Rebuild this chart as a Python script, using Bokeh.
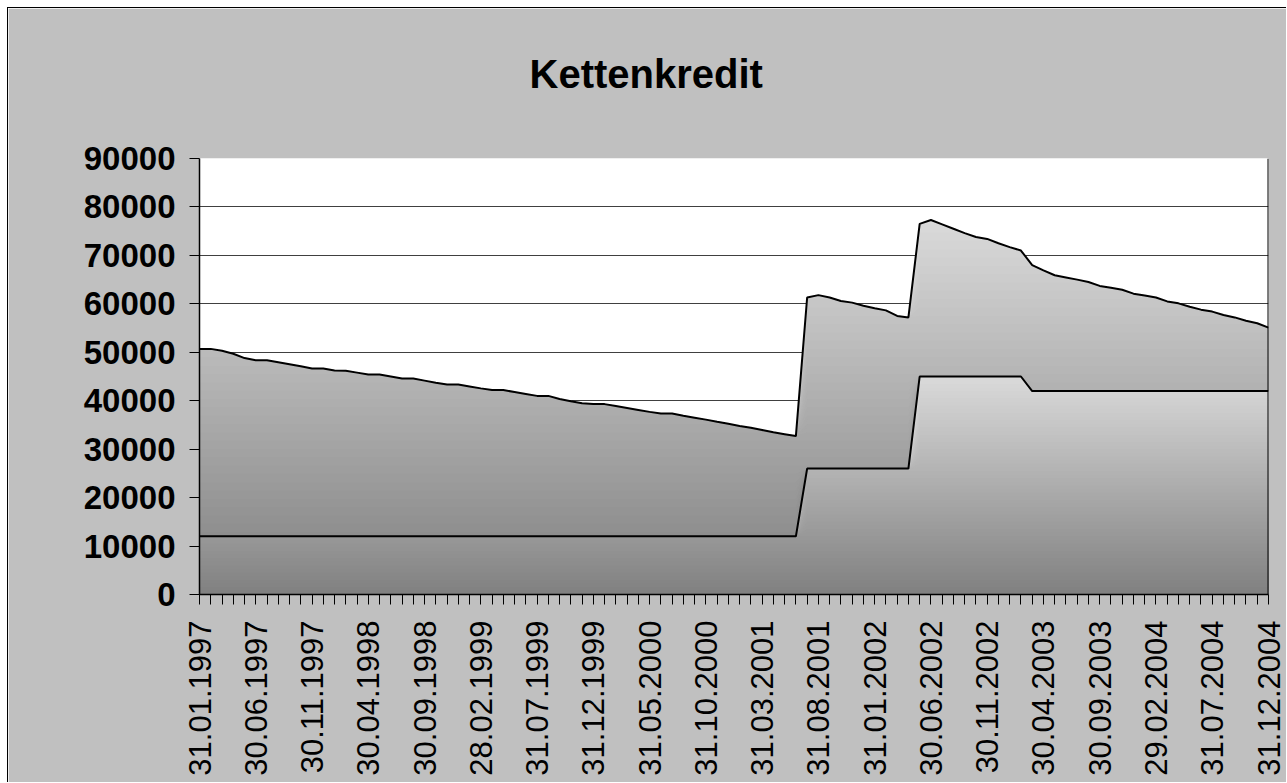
import numpy as np
import pandas as pd
from bokeh.plotting import figure
from bokeh.models import Range1d, FixedTicker, NumeralTickFormatter, Span
from bokeh.embed import file_html
from bokeh.resources import INLINE

# ---------------- data ----------------
title_text = "Kettenkredit"
dates = [d.strftime("%d.%m.%Y") for d in
         pd.date_range("1997-01-31", periods=96, freq=pd.offsets.MonthEnd())]

# lower series (first loan / base)
lower = ([12000] * 54) + ([26000] * 10) + ([45000] * 10) + ([42000] * 22)

# upper line (total)
upper = [
    50700, 50700, 50300, 49700, 48800, 48350, 48350, 47950, 47550, 47100,
    46650, 46650, 46250, 46200, 45800, 45400, 45400, 45000, 44600, 44600,
    44150, 43700, 43350, 43350, 42950, 42550, 42200, 42200, 41800, 41400,
    41000, 41000, 40350, 39900, 39500, 39300, 39300, 38900, 38500, 38100,
    37700, 37350, 37350, 36900, 36500, 36100, 35650, 35250, 34800, 34400,
    33950, 33500, 33100, 32700, 61300, 61800, 61300, 60600, 60250, 59600,
    59100, 58650, 57500, 57200, 76500, 77300, 76400, 75500, 74600, 73800,
    73400, 72500, 71700, 71000, 68000, 66900, 65900, 65450, 65000, 64500,
    63700, 63300, 62900, 62100, 61700, 61300, 60500, 60100, 59400, 58800,
    58400, 57700, 57200, 56500, 56000, 55100,
]
y_ticks = list(range(0, 90001, 10000))
label_step = 5

x = np.arange(len(dates))
lower_a = np.array(lower, dtype=float)
upper_a = np.array(upper, dtype=float)

# ---------------- figure ----------------
p = figure(width=1279, height=775,
           x_range=Range1d(x[0], x[-1]), y_range=Range1d(y_ticks[0], y_ticks[-1]),
           output_backend="svg", toolbar_location=None,
           min_border_left=191, min_border_right=19,
           min_border_top=150, min_border_bottom=189,
           background_fill_color="white", border_fill_color="#C0C0C0",
           outline_line_color=None)
p.styles = {"margin-left": "7px", "margin-top": "7px",
            "border-left": "1px solid black", "border-top": "1px solid black"}

p.title.text = title_text + "\n"
p.title.align = "left"
p.title.offset = 330
p.title.vertical_align = "top"
p.title.standoff = 34
p.title.text_font = "Liberation Sans"
p.title.text_font_style = "bold"
p.title.text_font_size = "40px"
p.title.text_color = "black"


def hexc(c):
    return "#%02x%02x%02x" % tuple(int(round(v)) for v in c)


def shade(base, top, lo, hi, c0, c1, n):
    for k in range(n, 0, -1):
        level = lo + (hi - lo) * k / n
        t = (k - 0.5) / n
        col = [a + (b - a) * t for a, b in zip(c0, c1)]
        y2 = np.maximum(np.minimum(top, level), base)
        p.varea(x=x, y1=base, y2=y2, fill_color=hexc(col))


# upper area: between lower and upper line
shade(lower_a, upper_a, 0, upper_a.max(), (128, 128, 128), (218, 218, 218), 90)
# lower area: between 0 and lower line
shade(np.zeros_like(lower_a), lower_a, 0, lower_a.max(), (128, 128, 128), (218, 218, 218), 60)

p.line(x, upper_a, line_color="black", line_width=2)
p.line(x, lower_a, line_color="black", line_width=2)

p.add_layout(Span(location=x[-1], dimension="height", line_color="black", line_width=2))

# ---------------- axes ----------------
p.xgrid.grid_line_color = None
p.ygrid.grid_line_color = "#404040"
p.ygrid.grid_line_width = 1

xa = p.xaxis[0]
xa.ticker = FixedTicker(ticks=list(x))
xa.major_label_overrides = {int(i): (dates[i] if i % label_step == 0 else "") for i in x}
xa.major_label_orientation = np.pi / 2
xa.major_tick_out = 10
xa.major_tick_in = 0
xa.minor_tick_line_color = None
xa.major_tick_line_color = "black"
xa.axis_line_color = "black"
xa.axis_line_width = 1.5
xa.major_label_text_font = "Liberation Sans"
xa.major_label_text_font_size = "31px"
xa.major_label_text_color = "black"
xa.major_label_standoff = 16

ya = p.yaxis[0]
ya.ticker = FixedTicker(ticks=y_ticks)
ya.formatter = NumeralTickFormatter(format="0")
ya.major_tick_out = 10
ya.major_tick_in = 0
ya.minor_tick_line_color = None
ya.major_tick_line_color = "black"
ya.axis_line_color = "black"
ya.axis_line_width = 1.5
ya.major_label_text_font = "Liberation Sans"
ya.major_label_text_font_style = "bold"
ya.major_label_text_font_size = "33px"
ya.major_label_text_color = "black"
ya.major_label_standoff = 14

open("out.html", "w").write(file_html(p, INLINE, title=title_text))
